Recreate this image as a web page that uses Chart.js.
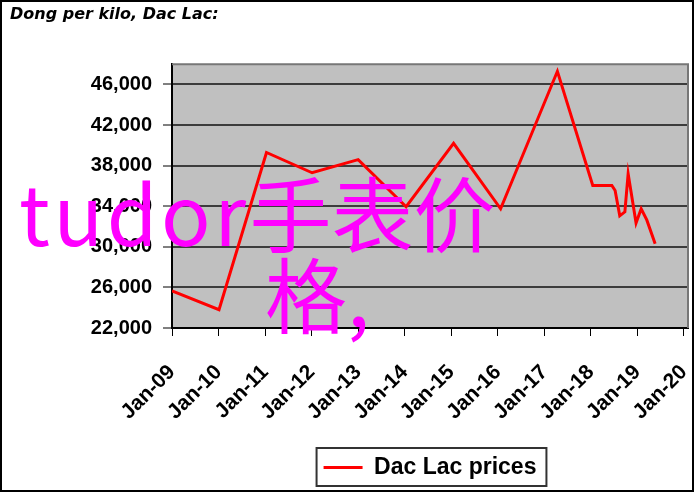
<!DOCTYPE html>
<html lang="en">
<head>
  <meta charset="UTF-8">
  <title>Dong per kilo, Dac Lac</title>
  <script src="https://cdn.jsdelivr.net/npm/chart.js"></script>
  <style>
    html, body { margin: 0; padding: 0; background: #fff; }
    #wrap { position: relative; width: 696px; height: 493px; overflow: hidden; }
    canvas { display: block; }
    .overlay {
      position: absolute;
      color: #ff00ff;
      font-family: "Noto Sans CJK SC", sans-serif;
      font-size: 82px;
      line-height: 82px;
      white-space: nowrap;
      pointer-events: none;
    }
  </style>
</head>
<body>
  <div id="wrap">
    <canvas id="priceChart" width="696" height="493"></canvas>
    <div class="overlay" style="left:19px; top:170px;"><span style="letter-spacing:3.5px">tudor</span>手表价</div>
    <div class="overlay" style="left:265px; top:251px;">格,</div>
  </div>

  <script>
    // Dac Lac coffee price, dong per kilo
    const years = [2009.00, 2010.01, 2011.03, 2012.01, 2013.00, 2014.03, 2015.05, 2016.06, 2017.28,
                   2018.04, 2018.45, 2018.52, 2018.62, 2018.73, 2018.80, 2018.97, 2019.08, 2019.20, 2019.38];
    const prices = [25650, 23800, 39300, 37300, 38600, 33950, 40200, 33750, 47300,
                    36050, 36050, 35550, 33050, 33450, 37200, 32350, 33750, 32650, 30300];

    const tickYears = [2009, 2010, 2011, 2012, 2013, 2014, 2015, 2016, 2017, 2018, 2019, 2020];
    const tickLabels = ['Jan-09', 'Jan-10', 'Jan-11', 'Jan-12', 'Jan-13', 'Jan-14',
                        'Jan-15', 'Jan-16', 'Jan-17', 'Jan-18', 'Jan-19', 'Jan-20'];
    const priceTicks = [22000, 26000, 30000, 34000, 38000, 42000, 46000];

    const axisFont = 'Liberation Sans, Arial, sans-serif';

    // grey plot background, plot border, legend box and outer frame
    const framePlugin = {
      id: 'frame',
      beforeDraw(chart) {
        const { ctx, chartArea: a } = chart;
        ctx.save();
        ctx.fillStyle = '#c0c0c0';
        ctx.fillRect(a.left, a.top, a.right - a.left, a.bottom - a.top);
        ctx.restore();
      },
      afterDraw(chart) {
        const { ctx, chartArea: a } = chart;
        ctx.save();
        ctx.strokeStyle = '#777';
        ctx.lineWidth = 2;
        ctx.beginPath();
        ctx.moveTo(a.left, a.top);
        ctx.lineTo(a.right, a.top);
        ctx.lineTo(a.right, a.bottom);
        ctx.stroke();

        const hb = chart.legend.legendHitBoxes[0];
        if (hb) {
          ctx.strokeStyle = '#333';
          ctx.strokeRect(hb.left - 7, hb.top - 8, hb.width + 17, 38);
        }

        ctx.strokeStyle = '#000';
        ctx.strokeRect(1, 1, 692, 490);
        ctx.restore();
      }
    };

    const ctx = document.getElementById('priceChart').getContext('2d');
    new Chart(ctx, {
      type: 'line',
      data: {
        datasets: [{
          label: 'Dac Lac prices',
          data: years.map((x, i) => ({ x: x, y: prices[i] })),
          borderColor: '#ff0000',
          backgroundColor: '#ff0000',
          borderWidth: 3,
          pointRadius: 0,
          tension: 0
        }]
      },
      options: {
        responsive: false,
        animation: false,
        layout: { padding: { left: 10, right: 8, top: 0, bottom: 4 } },
        plugins: {
          title: {
            display: true,
            text: 'Dong per kilo, Dac Lac:',
            align: 'start',
            color: '#000',
            font: { family: 'DejaVu Sans', size: 16, weight: 'bold', style: 'italic' },
            padding: { top: 5, bottom: 40 }
          },
          legend: {
            position: 'bottom',
            fullSize: false,
            labels: {
              boxWidth: 39,
              boxHeight: 3,
              padding: 10,
              color: '#000',
              font: { family: axisFont, weight: 'bold', size: 23 },
              generateLabels: chart => {
                const items = Chart.defaults.plugins.legend.labels.generateLabels(chart);
                items.forEach(it => { it.lineWidth = 0; });
                return items;
              }
            }
          },
          tooltip: { enabled: false }
        },
        scales: {
          x: {
            type: 'linear',
            min: 2009,
            max: 2020.086,
            afterBuildTicks: s => { s.ticks = tickYears.map(v => ({ value: v })); },
            afterFit: s => { s.height = 118; s.paddingLeft = 0; s.paddingRight = 0; },
            grid: { drawOnChartArea: false, tickLength: 8, color: '#000', lineWidth: 1 },
            border: { color: '#000', width: 2 },
            ticks: {
              minRotation: 45,
              maxRotation: 45,
              autoSkip: false,
              padding: 24,
              color: '#000',
              font: { family: axisFont, weight: 'bold', size: 21 },
              callback: (v, i) => tickLabels[i]
            }
          },
          y: {
            min: 22000,
            max: 48000,
            afterBuildTicks: s => { s.ticks = priceTicks.map(v => ({ value: v })); },
            afterFit: s => { s.width = 162; },
            grid: { color: '#3c3c3c', lineWidth: 2, tickLength: 9, tickColor: '#000', tickWidth: 1 },
            border: { color: '#000', width: 2 },
            ticks: {
              padding: 11,
              color: '#000',
              font: { family: axisFont, weight: 'bold', size: 20 },
              callback: v => v.toLocaleString('en-US')
            }
          }
        }
      },
      plugins: [framePlugin]
    });
  </script>
</body>
</html>
